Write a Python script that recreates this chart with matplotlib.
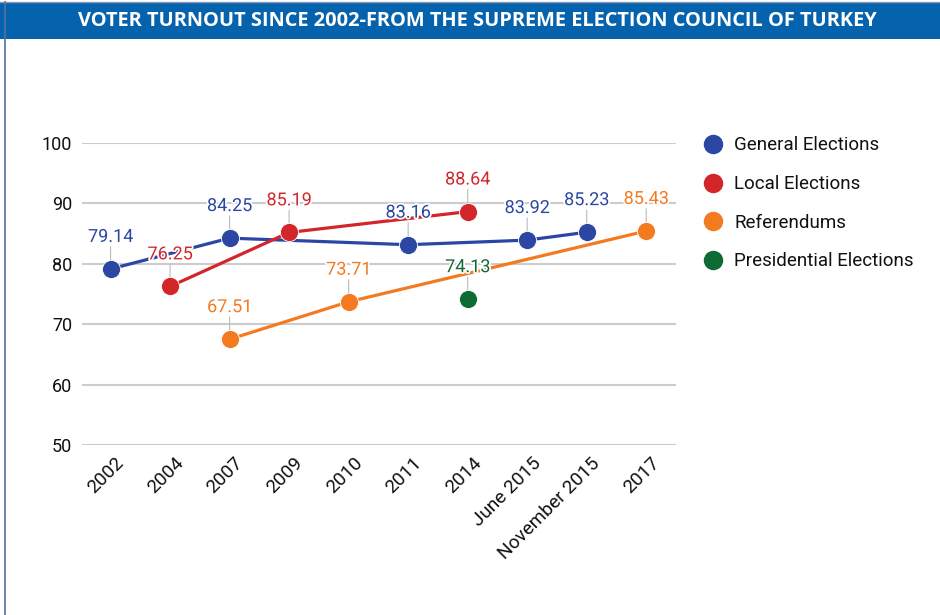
import matplotlib
matplotlib.use("Agg")
import matplotlib.pyplot as plt
import matplotlib.patheffects as pe
import matplotlib.transforms as mtransforms
from matplotlib.lines import Line2D
from matplotlib.patches import Rectangle

# data
categories = ["2002", "2004", "2007", "2009", "2010", "2011", "2014",
              "June 2015", "November 2015", "2017"]
general = [79.14, None, 84.25, None, None, 83.16, None, 83.92, 85.23, None]
local = [None, 76.25, None, 85.19, None, None, 88.64, None, None, None]
referendums = [None, None, 67.51, None, 73.71, None, None, None, None, 85.43]
presidential = [None, None, None, None, None, None, 74.13, None, None, None]

series_names = ["General Elections", "Local Elections", "Referendums",
                "Presidential Elections"]
series_colors = ["#2b47a3", "#d3262b", "#f47a20", "#0f6b34"]
title = "VOTER TURNOUT SINCE 2002-FROM THE SUPREME ELECTION COUNCIL OF TURKEY"

W, H = 940, 615
fig = plt.figure(figsize=(W / 100, H / 100), dpi=100)
fig.patch.set_facecolor("white")

# title bar + frame line
fig.patches.append(Rectangle((0, 1 - 39 / H), 1, 36 / H, transform=fig.transFigure,
                             facecolor="#0562ad", edgecolor="none", zorder=0))
fig.lines.append(Line2D([0, 1], [1 - 2 / H, 1 - 2 / H], transform=fig.transFigure,
                        color="#8a9ab8", lw=1))
fig.lines.append(Line2D([5 / W, 5 / W], [0, 1 - 2 / H], transform=fig.transFigure,
                        color="#5a6f9e", lw=1.2))
fig.text(477 / W, 1 - 21 / H, title, color="white", fontsize=14.4,
         fontweight="bold", family="Open Sans", ha="center", va="center")

# plot area: x 82..676 px, y 143..445 px
ax = fig.add_axes([82 / W, 1 - 445 / H, (676 - 82) / W, (445 - 143) / H])
ax.set_xlim(-0.48, 9.5)
ax.set_ylim(50, 100)
ax.set_yticks([50, 60, 70, 80, 90, 100])
ax.set_xticks(range(len(categories)))
ax.set_xticklabels(categories, rotation=45, ha="right", va="top",
                   rotation_mode="anchor", fontsize=13.7, family="Roboto",
                   color="#111111")
ax.tick_params(axis="y", length=0, pad=7, labelsize=13, labelcolor="#111111")
ax.tick_params(axis="x", length=0, pad=0)
for lab in ax.get_yticklabels():
    lab.set_family("Roboto")
offset = mtransforms.ScaledTranslation(4.5 / 100, -9 / 100, fig.dpi_scale_trans)
for lab in ax.get_xticklabels():
    lab.set_transform(lab.get_transform() + offset)
for s in ax.spines.values():
    s.set_visible(False)
ax.grid(axis="y", color="#cccccc", lw=1.5)
ax.set_axisbelow(True)

handles = []
for name, vals, col in zip(series_names,
                           [general, local, referendums, presidential],
                           series_colors):
    xs = [i for i, v in enumerate(vals) if v is not None]
    ys = [v for v in vals if v is not None]
    ax.plot(xs, ys, color=col, lw=2.3, zorder=3)
    for x, y in zip(xs, ys):
        ax.annotate("", xy=(x, y), xytext=(0, 16), textcoords="offset points",
                    arrowprops=dict(arrowstyle="-", color="#bbbbbb", lw=0.8,
                                    shrinkA=0, shrinkB=0), zorder=2)
        ax.annotate(f"{y:.2f}", xy=(x, y), xytext=(0, 19.5),
                    textcoords="offset points", ha="center", va="baseline",
                    color=col, fontsize=13, family="Roboto", zorder=6,
                    path_effects=[pe.withStroke(linewidth=2.5, foreground="white")])
    ax.plot(xs, ys, "o", color=col, markersize=13, mec="white", mew=0.6, zorder=5)
    handles.append(Line2D([], [], marker="o", linestyle="none", color=col,
                          markersize=13, label=name))

leg = fig.legend(handles=handles, loc="upper left",
                 bbox_to_anchor=(704 / W, 1 - 136.5 / H), frameon=False,
                 prop={"family": "Roboto", "size": 13.5},
                 handlelength=1.0, handletextpad=0.62, labelspacing=1.1,
                 borderpad=0, borderaxespad=0)
for t in leg.get_texts():
    t.set_color("#111111")

fig.savefig("out.png", dpi=100, facecolor="white")
